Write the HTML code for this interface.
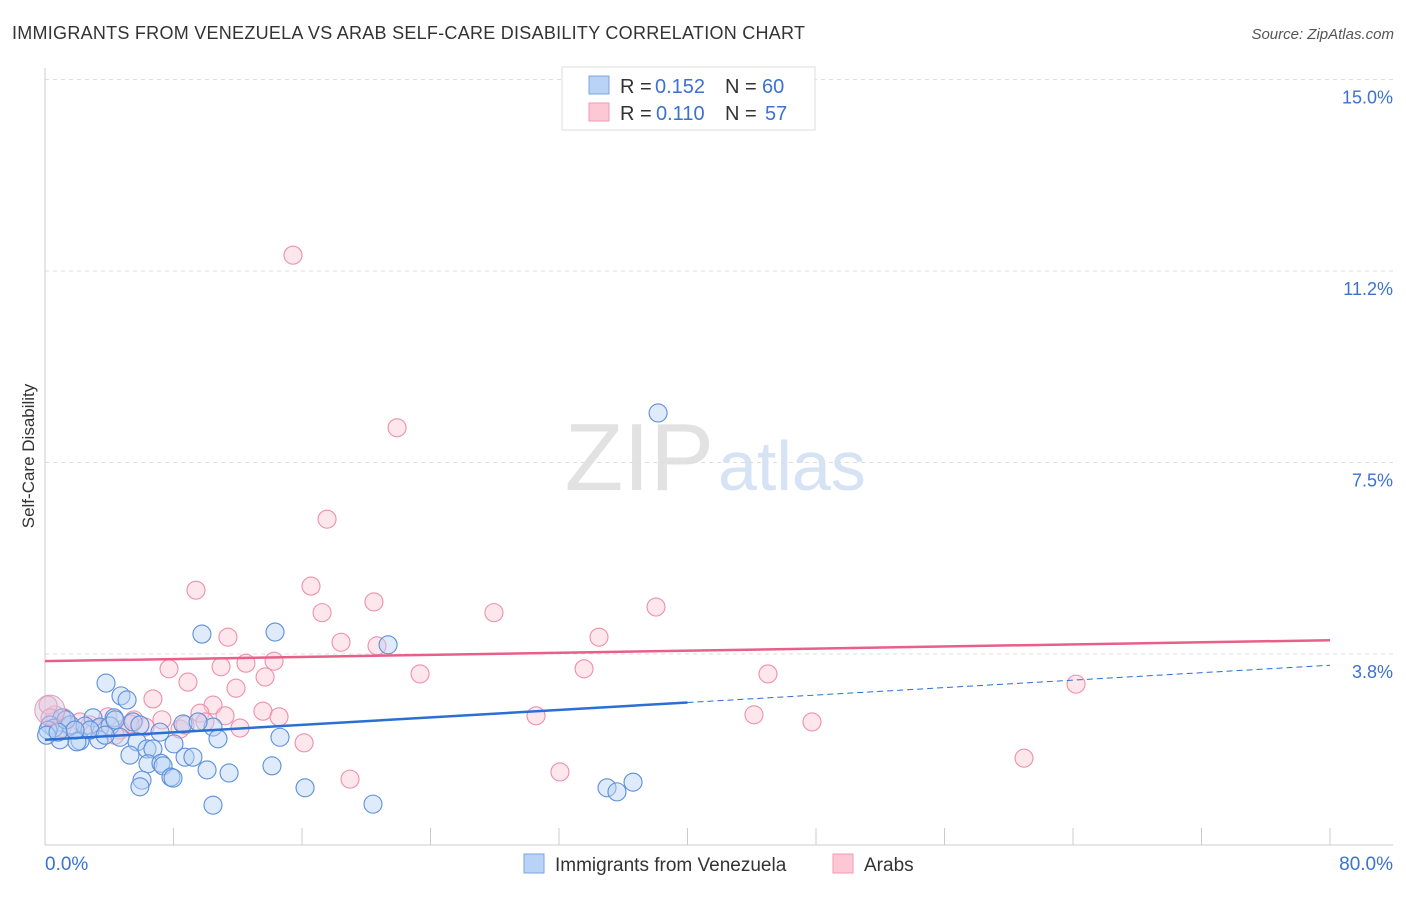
<!DOCTYPE html>
<html><head><meta charset="utf-8"><style>
body{margin:0;background:#fff;font-family:"Liberation Sans",sans-serif;}
svg text{font-family:"Liberation Sans",sans-serif;}
</style></head><body>
<svg id="chart" width="1406" height="892" xmlns="http://www.w3.org/2000/svg">
<text x="12" y="39" font-size="18" fill="#333" textLength="793">IMMIGRANTS FROM VENEZUELA VS ARAB SELF-CARE DISABILITY CORRELATION CHART</text>
<text x="1394" y="39" font-size="15" fill="#555" font-style="italic" text-anchor="end">Source: ZipAtlas.com</text>
<text x="714" y="490" font-size="96" fill="#e2e2e2" text-anchor="end" font-family="Liberation Serif">ZIP</text>
<text x="718" y="490" font-size="70" fill="#d5e3f5">atlas</text>
<g id="grid"></g><g id="axes"></g><g id="pts"></g><g id="trend"></g>
<text transform="translate(34,456) rotate(-90)" font-size="17" fill="#333" text-anchor="middle">Self-Care Disability</text>
<g>
<rect x="562" y="67" width="253" height="63" fill="#fff" stroke="#ddd"/>
<rect x="589" y="76" width="20" height="18" fill="#b8d3f5" stroke="#7aa6e0"/>
<rect x="589" y="103" width="20" height="18" fill="#fcc8d6" stroke="#f09ab3"/>
<text x="620" y="93" font-size="20" fill="#333">R = </text><text x="655" y="93" font-size="20" fill="#3b72d0">0.152</text>
<text x="725" y="93" font-size="20" fill="#333">N = </text><text x="762" y="93" font-size="20" fill="#3b72d0">60</text>
<text x="620" y="120" font-size="20" fill="#333">R = </text><text x="656" y="120" font-size="20" fill="#3b72d0">0.110</text>
<text x="725" y="120" font-size="20" fill="#333">N = </text><text x="765" y="120" font-size="20" fill="#3b72d0">57</text>
</g>
<g>
<rect x="524" y="854" width="20" height="19" fill="#b8d3f5" stroke="#7aa6e0"/>
<text x="555" y="871" font-size="19" fill="#333">Immigrants from Venezuela</text>
<rect x="833" y="854" width="20" height="19" fill="#fcc8d6" stroke="#f09ab3"/>
<text x="864" y="871" font-size="19" fill="#333">Arabs</text>
</g>
<text x="45" y="870" font-size="19" fill="#3b72d0">0.0%</text>
<text x="1393" y="870" font-size="19" fill="#3b72d0" text-anchor="end">80.0%</text>
</svg>
<script>
const yTicks=[15.0,11.25,7.5,3.75];
const yTickLabels=["15.0%","11.2%","7.5%","3.8%"];
const blueX=[38.17,14.32,9.77,21.36,3.80,4.73,5.11,1.06,2.99,4.30,5.48,0.31,1.56,2.49,3.42,4.05,5.91,8.59,10.46,9.53,0.93,2.18,1.99,3.36,4.67,5.73,10.77,14.63,5.29,6.35,6.72,8.03,8.72,9.21,6.41,7.22,7.35,6.04,7.84,7.97,10.09,11.46,14.13,5.91,10.46,16.19,20.42,34.99,35.61,36.61,0.56,1.31,0.19,2.80,3.74,1.87,7.16,0.1,0.81,4.36];
const blueY=[8.47,4.18,4.14,3.93,3.18,2.93,2.85,2.50,2.50,2.50,2.42,2.36,2.36,2.34,2.32,2.34,2.36,2.38,2.32,2.42,2.07,2.05,2.03,2.07,2.12,2.03,2.09,2.12,1.77,1.89,1.89,1.99,1.73,1.73,1.60,1.61,1.56,1.28,1.34,1.32,1.48,1.42,1.56,1.15,0.79,1.13,0.81,1.13,1.05,1.24,2.30,2.46,2.26,2.26,2.16,2.26,2.22,2.16,2.22,2.46];
const pinkX=[15.44,21.92,17.56,16.56,9.40,20.48,17.25,27.95,38.04,11.39,18.43,20.67,34.49,7.72,10.96,12.51,14.26,8.90,11.89,13.70,23.35,33.56,45.01,64.19,6.72,10.46,9.65,11.21,13.57,14.57,30.57,44.14,47.75,7.28,5.54,3.92,1.18,0.62,0.19,1.56,2.80,4.67,6.23,8.41,12.14,16.13,18.99,32.06,60.95,5.29,2.18,1.06,3.42,8.72,9.96,0.31,4.36];
const pinkY=[11.56,8.18,6.39,5.08,5.00,4.77,4.56,4.56,4.67,4.08,3.98,3.91,4.08,3.46,3.50,3.57,3.61,3.20,3.08,3.30,3.36,3.46,3.36,3.16,2.87,2.75,2.59,2.54,2.63,2.52,2.54,2.56,2.42,2.46,2.46,2.52,2.50,2.56,2.75,2.32,2.36,2.26,2.32,2.28,2.30,2.01,1.30,1.44,1.71,2.38,2.42,2.30,2.30,2.36,2.42,2.50,2.16];
const blueTrend=[2.07,3.53];
const pinkTrend=[3.61,4.02];
const NS="http://www.w3.org/2000/svg";
const sx=v=>45+v/80*1285;
const sy=v=>845.5-v/15*766;
function mk(tag,attrs,parent){const e=document.createElementNS(NS,tag);for(const k in attrs)e.setAttribute(k,attrs[k]);document.getElementById(parent).appendChild(e);return e;}
yTicks.forEach((t,i)=>{
 const l=mk('line',{x1:45,x2:1393,y1:sy(t),y2:sy(t),stroke:'#ddd','stroke-dasharray':'4,4'},'grid');
 
 
 const tx=mk('text',{x:1393,y:sy(t)+24,'font-size':18,fill:'#3b72d0','text-anchor':'end'},'grid');
 tx.textContent=yTickLabels[i];
 
 
});
const ax=mk('line',{x1:45,x2:1393,y1:845,y2:845,stroke:'#ccc'},'axes');


const ay=mk('line',{x1:45,x2:45,y1:68,y2:845,stroke:'#ccc'},'axes');


for(let k=1;k<=10;k++){const t=mk('line',{x1:sx(k*8),x2:sx(k*8),y1:828,y2:845,stroke:'#ccc'},'axes');
 
 }
function pts(X,Y,fill,stroke,name){X.forEach((x,i)=>{const c=mk('circle',{cx:sx(x),cy:sy(Y[i]),r:9,fill:fill,'fill-opacity':0.45,stroke:stroke,'stroke-width':1.1},'pts');
 
 });}
pts(pinkX,pinkY,'#fcc8d6','#ee8fab','arab-point');
pts(blueX,blueY,'#b8d3f5','#5b8fdc','venezuela-point');
const bb=mk('circle',{cx:sx(0.3),cy:sy(2.65),r:15,fill:'#d0c6e2','fill-opacity':0.45,stroke:'#e89ab0'},'pts');


const bm=blueTrend[0]+(blueTrend[1]-blueTrend[0])*0.5;
const b1=mk('line',{x1:sx(0),y1:sy(blueTrend[0]),x2:sx(40),y2:sy(bm),stroke:'#2a6fd4','stroke-width':2.5},'trend');


const b2=mk('line',{x1:sx(40),y1:sy(bm),x2:sx(80),y2:sy(blueTrend[1]),stroke:'#2a6fd4','stroke-width':1,'stroke-dasharray':'6,4'},'trend');


const p1=mk('line',{x1:sx(0),y1:sy(pinkTrend[0]),x2:sx(80),y2:sy(pinkTrend[1]),stroke:'#e8608a','stroke-width':2.5},'trend');


</script>
</body></html>
